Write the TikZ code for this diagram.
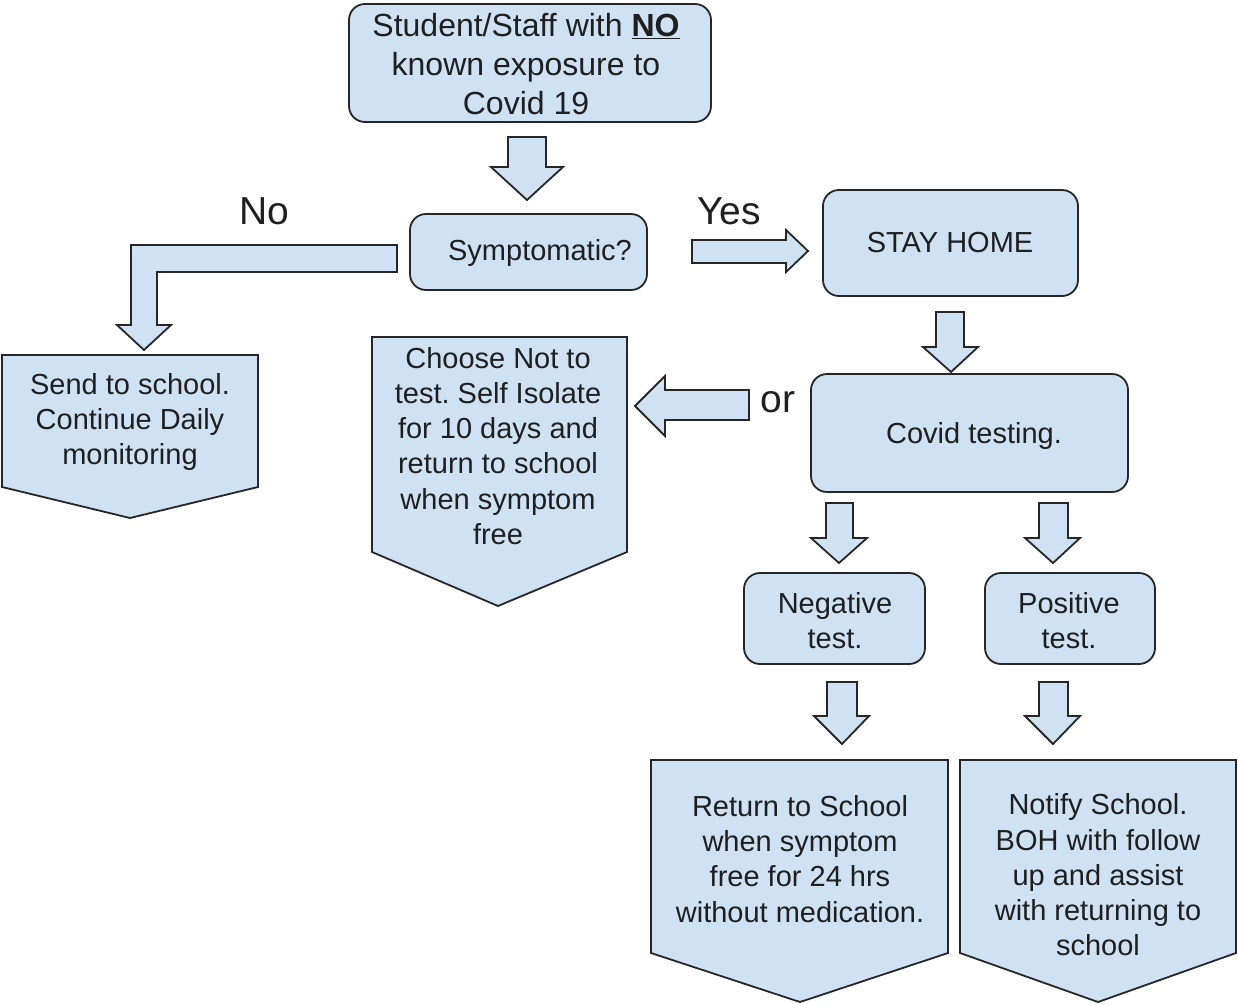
\documentclass[tikz,border=0pt]{standalone}
\usepackage{fontspec}
\setmainfont{Liberation Sans}
\frenchspacing
\definecolor{boxc}{HTML}{CFE2F3}
\definecolor{linec}{HTML}{262626}
\definecolor{textc}{HTML}{1F1F1F}
\newcommand\myfontT{\fontsize{32}{39}\selectfont}
\newcommand\myfontM{\fontsize{29}{35.2}\selectfont}
\newcommand\myfontL{\fontsize{39}{47}\selectfont}
\begin{document}
\begin{tikzpicture}[x=1pt,y=-1pt,
  rbox/.style={draw=linec, fill=boxc, line width=1.8pt, rounded corners=16pt, inner sep=0pt},
  blk/.style={draw=linec, fill=boxc, line width=1.8pt, line join=miter},
  txt/.style={align=center, text=textc, font=\myfontM, inner sep=0pt},
  lbl/.style={text=textc, font=\myfontL, inner sep=0pt, anchor=base}]
\useasboundingbox (0,0) rectangle (1238,1004);

% rounded boxes
\node[rbox, minimum width=362pt, minimum height=118pt] (start) at (530,63) {};
\node[txt, font=\myfontT] (startt) at (526,64) {Student/Staff with \underline{\textbf{NO}}\\known exposure to\\Covid 19};
\node[rbox, minimum width=237pt, minimum height=76pt] (sym) at (528.5,252) {};
\node[txt] (symt) at (540,253) {Symptomatic?};
\node[rbox, minimum width=255pt, minimum height=106pt] (stay) at (950.5,243) {};
\node[txt] (stayt) at (950,243) {STAY HOME};
\node[rbox, minimum width=317pt, minimum height=118pt] (covid) at (969.5,433) {};
\node[txt] (covidt) at (974,436) {Covid testing.};
\node[rbox, minimum width=181pt, minimum height=91pt] (neg) at (834.5,618.5) {};
\node[txt] (negt) at (835,621) {Negative\\test.};
\node[rbox, minimum width=170pt, minimum height=91pt] (pos) at (1070,618.5) {};
\node[txt] (post) at (1069,621) {Positive\\test.};

% pentagon boxes
\draw[blk] (2,355) -- (258,355) -- (258,487) -- (130,518) -- (2,487) -- cycle;
\node[txt] (sendt) at (130,422) {Send to school.\\Continue Daily\\monitoring};
\draw[blk] (372,337) -- (627,337) -- (627,552) -- (498,606) -- (372,552) -- cycle;
\node[txt] (chooset) at (498,446) {Choose Not to\\test. Self Isolate\\for 10 days and\\return to school\\when symptom\\free};
\draw[blk] (651,760) -- (948,760) -- (948,953) -- (800,1002) -- (651,953) -- cycle;
\node[txt] (rett) at (800,859) {Return to School\\when symptom\\free for 24 hrs\\without medication.};
\draw[blk] (960,760) -- (1236,760) -- (1236,953) -- (1098,1002) -- (960,953) -- cycle;
\node[txt] (notit) at (1098,875) {Notify School.\\BOH with follow\\up and assist\\with returning to\\school};

% block arrows
\draw[blk] (508,137) -- (546,137) -- (546,167) -- (563,167) -- (527,200) -- (491,167) -- (508,167) -- cycle;
\draw[blk] (692,240) -- (786,240) -- (786,230) -- (808,251) -- (786,272) -- (786,263) -- (692,263) -- cycle;
\draw[blk] (397,245) -- (131,245) -- (131,325) -- (117,325) -- (144,350) -- (171,325) -- (157,325) -- (157,272) -- (397,272) -- cycle;
\draw[blk] (749,390) -- (665,390) -- (665,376) -- (635,406) -- (665,436) -- (665,420) -- (749,420) -- cycle;
\draw[blk] (936,312) -- (964,312) -- (964,347) -- (978,347) -- (951,372) -- (923,347) -- (936,347) -- cycle;
\draw[blk] (826,503) -- (853,503) -- (853,538) -- (867,538) -- (839,563) -- (811,538) -- (826,538) -- cycle;
\draw[blk] (1039,503) -- (1068,503) -- (1068,538) -- (1080,538) -- (1053,563) -- (1025,538) -- (1039,538) -- cycle;
\draw[blk] (827,682) -- (857,682) -- (857,716) -- (869,716) -- (842,744) -- (814,716) -- (827,716) -- cycle;
\draw[blk] (1039,682) -- (1068,682) -- (1068,716) -- (1080,716) -- (1053,744) -- (1025,716) -- (1039,716) -- cycle;

% labels
\node[lbl] (no) at (264,224) {No};
\node[lbl] (yes) at (729,224) {Yes};
\node[lbl] (or) at (778,412) {or};
\end{tikzpicture}
\end{document}
